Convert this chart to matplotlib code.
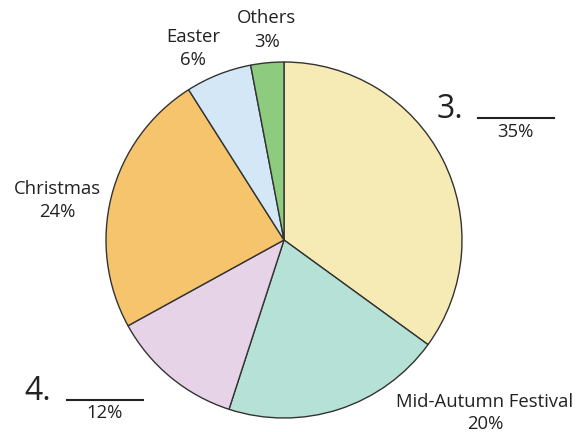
import matplotlib.pyplot as plt

plt.rcParams['font.family'] = ['Open Sans', 'DejaVu Sans']

festivals = ['Chinese New Year', 'Mid-Autumn Festival', 'Dragon Boat', 'Christmas', 'Easter', 'Others']
shares = [35, 20, 12, 24, 6, 3]
colors = ['#F6EBB5', '#B6E1D6', '#E6D3E8', '#F5C46C', '#D4E7F6', '#8DCB7F']

W, H = 584, 432
fig = plt.figure(figsize=(W / 100, H / 100), dpi=100)
ax = fig.add_axes([0, 0, 1, 1])
ax.set_xlim(0, W)
ax.set_ylim(0, H)
ax.set_aspect('equal')
ax.axis('off')

ax.pie(shares, colors=colors, startangle=90, counterclock=False,
       center=(284, H - 240), radius=178,
       wedgeprops=dict(edgecolor='#333333', linewidth=1.0))
ax.set_xlim(0, W)
ax.set_ylim(0, H)


def y(v):
    return H - v


tc = '#222222'
fs = 13.3
ax.text(450, y(110), '3.', fontsize=23, ha='center', va='center', color=tc)
ax.plot([478, 554], [y(118), y(118)], color=tc, lw=1.5)
ax.text(515, y(132), f'{shares[0]}%', fontsize=fs, ha='center', va='center', color=tc)

ax.text(38, y(391), '4.', fontsize=23, ha='center', va='center', color=tc)
ax.plot([67, 143], [y(400), y(400)], color=tc, lw=1.5)
ax.text(105, y(413), f'{shares[2]}%', fontsize=fs, ha='center', va='center', color=tc)

ax.text(485, y(402), festivals[1], fontsize=fs, ha='center', va='center', color=tc)
ax.text(485, y(424), f'{shares[1]}%', fontsize=fs, ha='center', va='center', color=tc)
ax.text(57, y(189), festivals[3], fontsize=fs, ha='center', va='center', color=tc)
ax.text(57, y(212), f'{shares[3]}%', fontsize=fs, ha='center', va='center', color=tc)
ax.text(193, y(37), festivals[4], fontsize=fs, ha='center', va='center', color=tc)
ax.text(193, y(60), f'{shares[4]}%', fontsize=fs, ha='center', va='center', color=tc)
ax.text(267, y(18), festivals[5], fontsize=fs, ha='center', va='center', color=tc)
ax.text(267, y(42), f'{shares[5]}%', fontsize=fs, ha='center', va='center', color=tc)

fig.savefig('out.png', dpi=100)
